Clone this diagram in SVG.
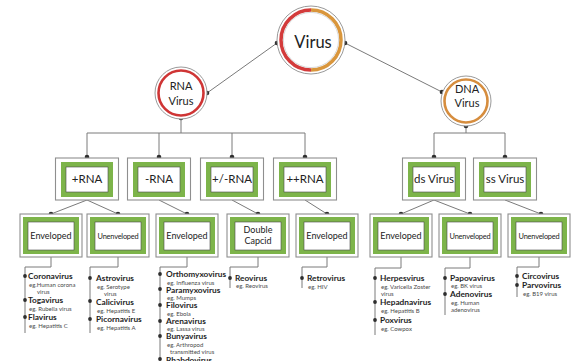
<svg xmlns="http://www.w3.org/2000/svg" width="571" height="361" viewBox="0 0 571 361">
<style>
.ob{fill:#fff;stroke:#8f8f8f;stroke-width:1.1}
.gf{fill:#7db44a}
.wi{fill:#fff;stroke:#4a4a4a;stroke-width:0.6}
.cn{stroke:#7a7a7a;stroke-width:1;fill:none}
.dot{fill:#2e2e2e}
.t{font-family:Lato,"Open Sans","Liberation Sans",sans-serif;fill:#222;text-anchor:middle}
.c1{font-size:16.5px}
.c2{font-size:11px}
.l2{font-size:11.5px}
.l3{font-size:9px}
.l3u{font-size:7.4px;letter-spacing:-0.2px}
.it{font-family:Lato,"Open Sans","Liberation Sans",sans-serif;font-size:8.3px;font-weight:bold;fill:#1e1e1e}
.eg{font-family:Lato,"Open Sans","Liberation Sans",sans-serif;font-size:6px;fill:#4a4a4a}
</style>
<rect width="571" height="361" fill="#fff"/>

<g id="connectors">
  <path class="cn" d="M277,43 L207,93"/>
  <path class="cn" d="M345,43 L442,92"/>
  <path class="cn" d="M181,118 V133 M87,133 H305 M87,133 V157 M159,133 V157 M232,133 V157 M305,133 V157"/>
  <path class="cn" d="M466,126 V133 M434,133 H505 M434,133 V157 M505,133 V157"/>
  <path class="cn" d="M87,200 L51,214 M87,200 L118,214 M159,200 L187,214 M232,200 L258,214 M305,200 L327,214 M434,200 L401,214 M434,200 L470,214 M505,200 L541,214"/>
  <path class="cn" d="M51,257 V267 H25 V333"/>
  <path class="cn" d="M118,257 V267 H90 V333"/>
  <path class="cn" d="M187,257 V267 H160 V361"/>
  <path class="cn" d="M258,257 V267 H230 V288"/>
  <path class="cn" d="M327,257 V267 H302 V288"/>
  <path class="cn" d="M401,257 V268 H375 V335"/>
  <path class="cn" d="M470,257 V268 H445 V315"/>
  <path class="cn" d="M539,257 V267 H517 V297"/>
  <g class="dot">
    <circle cx="277" cy="43" r="2.3"/><circle cx="345" cy="43" r="2.3"/>
    <circle cx="207" cy="93" r="2.3"/><circle cx="181" cy="118" r="2.3"/>
    <circle cx="442" cy="92" r="2.3"/><circle cx="466" cy="126" r="2.3"/>
    <circle cx="87" cy="157" r="2.3"/><circle cx="159" cy="157" r="2.3"/><circle cx="232" cy="157" r="2.3"/><circle cx="305" cy="157" r="2.3"/>
    <circle cx="434" cy="157" r="2.3"/><circle cx="505" cy="157" r="2.3"/>
    <circle cx="51" cy="214" r="2.3"/><circle cx="118" cy="214" r="2.3"/><circle cx="187" cy="214" r="2.3"/><circle cx="258" cy="214" r="2.3"/>
    <circle cx="327" cy="214" r="2.3"/><circle cx="401" cy="214" r="2.3"/><circle cx="470" cy="214" r="2.3"/><circle cx="541" cy="214" r="2.3"/>
  </g>
</g>

<g id="virus">
  <circle cx="311" cy="40" r="34" fill="#fff" stroke="#9a9a9a" stroke-width="1"/>
  <path d="M311,10 A30,30 0 0 0 311,70" fill="none" stroke="#d33b3b" stroke-width="3.5"/>
  <path d="M311,10 A30,30 0 0 1 311,70" fill="none" stroke="#d9963c" stroke-width="3.5"/>
  <circle cx="311" cy="40" r="27.6" fill="none" stroke="#cfcfcf" stroke-width="0.8"/>
  <text class="t c1" x="313" y="48">Virus</text>
</g>

<g id="rna-virus">
  <circle cx="181" cy="93" r="26" fill="#fff" stroke="#9a9a9a" stroke-width="1"/>
  <circle cx="181" cy="93" r="22.5" fill="none" stroke="#cf3535" stroke-width="2.6"/>
  <text class="t c2" x="181" y="90">RNA</text>
  <text class="t c2" x="181" y="105">Virus</text>
</g>

<g id="dna-virus">
  <circle cx="466" cy="101" r="25" fill="#fff" stroke="#9a9a9a" stroke-width="1"/>
  <circle cx="466" cy="101" r="21.5" fill="none" stroke="#d68d3e" stroke-width="2.6"/>
  <text class="t c2" x="467" y="93">DNA</text>
  <text class="t c2" x="467" y="107">Virus</text>
</g>

<g id="plus-rna">
  <rect class="ob" x="55.5" y="158" width="63" height="42"/><rect class="gf" x="61" y="162" width="52" height="35"/><rect class="wi" x="66" y="167" width="42" height="25"/>
  <text class="t l2" x="87" y="183">+RNA</text>
</g>
<g id="minus-rna">
  <rect class="ob" x="127.5" y="158" width="63" height="42"/><rect class="gf" x="133" y="162" width="52" height="35"/><rect class="wi" x="138" y="167" width="42" height="25"/>
  <text class="t l2" x="159" y="183">-RNA</text>
</g>
<g id="pm-rna">
  <rect class="ob" x="200.5" y="158" width="63" height="42"/><rect class="gf" x="206" y="162" width="52" height="35"/><rect class="wi" x="211" y="167" width="42" height="25"/>
  <text class="t l2" x="232" y="183">+/-RNA</text>
</g>
<g id="pp-rna">
  <rect class="ob" x="273.5" y="158" width="63" height="42"/><rect class="gf" x="279" y="162" width="52" height="35"/><rect class="wi" x="284" y="167" width="42" height="25"/>
  <text class="t l2" x="305" y="183">++RNA</text>
</g>
<g id="ds-virus">
  <rect class="ob" x="402.5" y="158" width="63" height="42"/><rect class="gf" x="408" y="162" width="52" height="35"/><rect class="wi" x="413" y="167" width="42" height="25"/>
  <text class="t l2" x="434" y="183">ds Virus</text>
</g>
<g id="ss-virus">
  <rect class="ob" x="473.5" y="158" width="63" height="42"/><rect class="gf" x="479" y="162" width="52" height="35"/><rect class="wi" x="484" y="167" width="42" height="25"/>
  <text class="t l2" x="505" y="183">ss Virus</text>
</g>

<g id="prna-env">
  <rect class="ob" x="20" y="214" width="62" height="43"/><rect class="gf" x="23" y="217" width="56" height="37"/><rect class="wi" x="28" y="222" width="46" height="28"/>
  <text class="t l3" x="51" y="239">Enveloped</text>
</g>
<g id="prna-unenv">
  <rect class="ob" x="87" y="214" width="62" height="43"/><rect class="gf" x="90" y="217" width="56" height="37"/><rect class="wi" x="95" y="222" width="46" height="28"/>
  <text class="t l3u" x="118" y="239">Unenveloped</text>
</g>
<g id="mrna-env">
  <rect class="ob" x="156" y="214" width="62" height="43"/><rect class="gf" x="159" y="217" width="56" height="37"/><rect class="wi" x="164" y="222" width="46" height="28"/>
  <text class="t l3" x="187" y="239">Enveloped</text>
</g>
<g id="pmrna-dc">
  <rect class="ob" x="227" y="214" width="62" height="43"/><rect class="gf" x="230" y="217" width="56" height="37"/><rect class="wi" x="235" y="222" width="46" height="28"/>
  <text class="t l3" x="258" y="233">Double</text>
  <text class="t l3" x="258" y="244">Capcid</text>
</g>
<g id="pprna-env">
  <rect class="ob" x="296" y="214" width="62" height="43"/><rect class="gf" x="299" y="217" width="56" height="37"/><rect class="wi" x="304" y="222" width="46" height="28"/>
  <text class="t l3" x="327" y="239">Enveloped</text>
</g>
<g id="ds-env">
  <rect class="ob" x="370" y="214" width="62" height="43"/><rect class="gf" x="373" y="217" width="56" height="37"/><rect class="wi" x="378" y="222" width="46" height="28"/>
  <text class="t l3" x="401" y="239">Enveloped</text>
</g>
<g id="ds-unenv">
  <rect class="ob" x="439" y="214" width="62" height="43"/><rect class="gf" x="442" y="217" width="56" height="37"/><rect class="wi" x="447" y="222" width="46" height="28"/>
  <text class="t l3u" x="470" y="239">Unenveloped</text>
</g>
<g id="ss-unenv">
  <rect class="ob" x="508" y="214" width="62" height="43"/><rect class="gf" x="511" y="217" width="56" height="37"/><rect class="wi" x="516" y="222" width="46" height="28"/>
  <text class="t l3u" x="539" y="239">Unenveloped</text>
</g>

<g id="list-prna-env">
  <g class="dot"><circle cx="25" cy="276" r="1.9"/><circle cx="25" cy="300" r="1.9"/><circle cx="25" cy="317" r="1.9"/></g>
  <text class="it" x="28" y="279">Coronavirus</text>
  <text class="eg" x="29" y="287">eg.Human corona</text>
  <text class="eg" x="37" y="294">virus</text>
  <text class="it" x="28" y="303">Togavirus</text>
  <text class="eg" x="29" y="311">eg. Rubella virus</text>
  <text class="it" x="28" y="320">Flavirus</text>
  <text class="eg" x="29" y="328">eg. Hepatitis C</text>
</g>
<g id="list-prna-unenv">
  <g class="dot"><circle cx="90" cy="278" r="1.9"/><circle cx="90" cy="301" r="1.9"/><circle cx="90" cy="319" r="1.9"/></g>
  <text class="it" x="96" y="281">Astrovirus</text>
  <text class="eg" x="97" y="289">eg. Serotype</text>
  <text class="eg" x="104" y="296">virus</text>
  <text class="it" x="96" y="305">Calicivirus</text>
  <text class="eg" x="97" y="313">eg. Hepatitis E</text>
  <text class="it" x="96" y="322">Picornavirus</text>
  <text class="eg" x="97" y="330">eg. Hepatitis A</text>
</g>
<g id="list-mrna-env">
  <g class="dot"><circle cx="160" cy="274" r="1.9"/><circle cx="160" cy="289" r="1.9"/><circle cx="160" cy="305" r="1.9"/><circle cx="160" cy="321" r="1.9"/><circle cx="160" cy="336" r="1.9"/><circle cx="160" cy="359" r="1.9"/></g>
  <text class="it" x="166" y="277">Orthomyxovirus</text>
  <text class="eg" x="167" y="285">eg. Influenza virus</text>
  <text class="it" x="166" y="292.5">Paramyxovirus</text>
  <text class="eg" x="167" y="300">eg. Mumps</text>
  <text class="it" x="166" y="308">Filovirus</text>
  <text class="eg" x="167" y="316">eg. Ebola</text>
  <text class="it" x="166" y="324">Arenavirus</text>
  <text class="eg" x="167" y="331">eg. Lassa virus</text>
  <text class="it" x="166" y="339">Bunyavirus</text>
  <text class="eg" x="167" y="347">eg. Arthropod</text>
  <text class="eg" x="170" y="354">transmitted virus</text>
  <text class="it" x="166" y="363">Rhabdovirus</text>
</g>
<g id="list-pmrna-dc">
  <g class="dot"><circle cx="230" cy="278" r="1.9"/></g>
  <text class="it" x="235" y="281">Reovirus</text>
  <text class="eg" x="236" y="288">eg. Reovirus</text>
</g>
<g id="list-pprna-env">
  <g class="dot"><circle cx="302" cy="278" r="1.9"/></g>
  <text class="it" x="307" y="281">Retrovirus</text>
  <text class="eg" x="308" y="289">eg. HIV</text>
</g>
<g id="list-ds-env">
  <g class="dot"><circle cx="375" cy="278" r="1.9"/><circle cx="375" cy="302" r="1.9"/><circle cx="375" cy="320" r="1.9"/></g>
  <text class="it" x="380" y="281">Herpesvirus</text>
  <text class="eg" x="381" y="289">eg. Varicella Zoster</text>
  <text class="eg" x="381" y="296">virus</text>
  <text class="it" x="380" y="305">Hepadnavirus</text>
  <text class="eg" x="381" y="313">eg. Hepatitis B</text>
  <text class="it" x="380" y="323">Poxvirus</text>
  <text class="eg" x="381" y="331">eg. Cowpox</text>
</g>
<g id="list-ds-unenv">
  <g class="dot"><circle cx="445" cy="278" r="1.9"/><circle cx="445" cy="294" r="1.9"/></g>
  <text class="it" x="450" y="281">Papovavirus</text>
  <text class="eg" x="451" y="288">eg. BK virus</text>
  <text class="it" x="450" y="297">Adenovirus</text>
  <text class="eg" x="451" y="305">eg. Human</text>
  <text class="eg" x="451" y="312">adenovirus</text>
</g>
<g id="list-ss-unenv">
  <g class="dot"><circle cx="517" cy="276" r="1.9"/><circle cx="517" cy="285" r="1.9"/></g>
  <text class="it" x="522" y="279">Circovirus</text>
  <text class="it" x="522" y="288">Parvovirus</text>
  <text class="eg" x="523" y="296">eg. B19 virus</text>
</g>
</svg>
